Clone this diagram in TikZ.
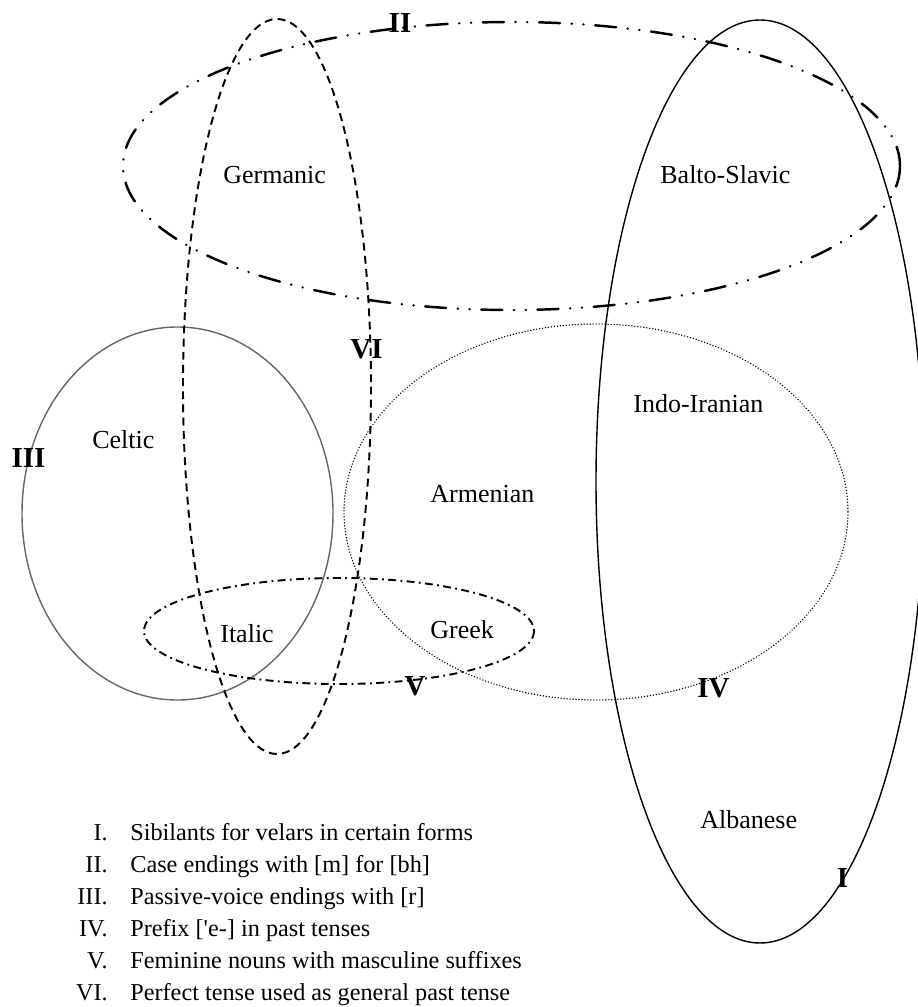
\documentclass[tikz,border=0pt]{standalone}
\usepackage{fontspec}
\setmainfont{Liberation Serif}
\begin{document}
\begin{tikzpicture}[x=0.02cm,y=-0.02cm,
  lang/.style={inner sep=0pt,anchor=base west,font=\fontsize{14.8}{18}\selectfont},
  num/.style={inner sep=0pt,anchor=base,font=\fontsize{16.5}{18}\selectfont\bfseries},
  item/.style={inner sep=0pt,font=\fontsize{13.8}{18}\selectfont}]
\useasboundingbox (0,0) rectangle (918,1007);

\coordinate (cI) at (760,481.5);
\coordinate (cII) at (511.5,166);
\coordinate (cIII) at (177.5,513.5);
\coordinate (cIV) at (596,512);
\coordinate (cV) at (339,631);
\coordinate (cVI) at (277,386.5);

% groupings
\draw[line width=0.8pt] (cI) ellipse [x radius=164, y radius=461.5];
\draw[line width=1.4pt,line cap=round,dash pattern=on 12pt off 6.6pt on 0.1pt off 6.6pt on 0.1pt off 6.6pt] (cII) ellipse [x radius=388.5, y radius=144];
\draw[line width=0.8pt,black!60] (cIII) ellipse [x radius=155.5, y radius=186.5];
\draw[line width=0.8pt,line cap=round,dash pattern=on 0.1pt off 1.6pt] (cIV) ellipse [x radius=252, y radius=188];
\draw[line width=1.1pt,dash pattern=on 4.5pt off 2.5pt on 1pt off 2.5pt] (cV) ellipse [x radius=195, y radius=53];
\draw[line width=1.1pt,dash pattern=on 4.5pt off 3pt] (cVI) ellipse [x radius=94, y radius=367.5];

% languages
\node[lang] (germanic) at (223,183) {Germanic};
\node[lang] (balto) at (660,183) {Balto-Slavic};
\node[lang] (celtic) at (92,448) {Celtic};
\node[lang] (indo) at (633,412) {Indo-Iranian};
\node[lang] (armenian) at (430,502) {Armenian};
\node[lang] (italic) at (220,642) {Italic};
\node[lang] (greek) at (430,638) {Greek};
\node[lang] (albanese) at (700,828) {Albanese};

% numerals
\node[num] (nI) at (842.5,887) {I};
\node[num] (nII) at (400,33) {II};
\node[num] (nIII) at (28.5,467) {III};
\node[num] (nIV) at (713.5,697) {IV};
\node[num] (nV) at (415,695) {V};
\node[num] (nVI) at (366.5,358) {VI};

% legend
\node[item,anchor=base east] (kI) at (108,840.7) {I.};
\node[item,anchor=base west] (tI) at (130,840.7) {Sibilants for velars in certain forms};
\node[item,anchor=base east] (kII) at (108,872.7) {II.};
\node[item,anchor=base west] (tII) at (130,872.7) {Case endings with [m] for [bh]};
\node[item,anchor=base east] (kIII) at (108,904.7) {III.};
\node[item,anchor=base west] (tIII) at (130,904.7) {Passive-voice endings with [r]};
\node[item,anchor=base east] (kIV) at (108,936.7) {IV.};
\node[item,anchor=base west] (tIV) at (130,936.7) {Prefix [\textquotesingle e-] in past tenses};
\node[item,anchor=base east] (kV) at (108,968.7) {V.};
\node[item,anchor=base west] (tV) at (130,968.7) {Feminine nouns with masculine suffixes};
\node[item,anchor=base east] (kVI) at (108,1000.7) {VI.};
\node[item,anchor=base west] (tVI) at (130,1000.7) {Perfect tense used as general past tense};
\end{tikzpicture}
\end{document}
